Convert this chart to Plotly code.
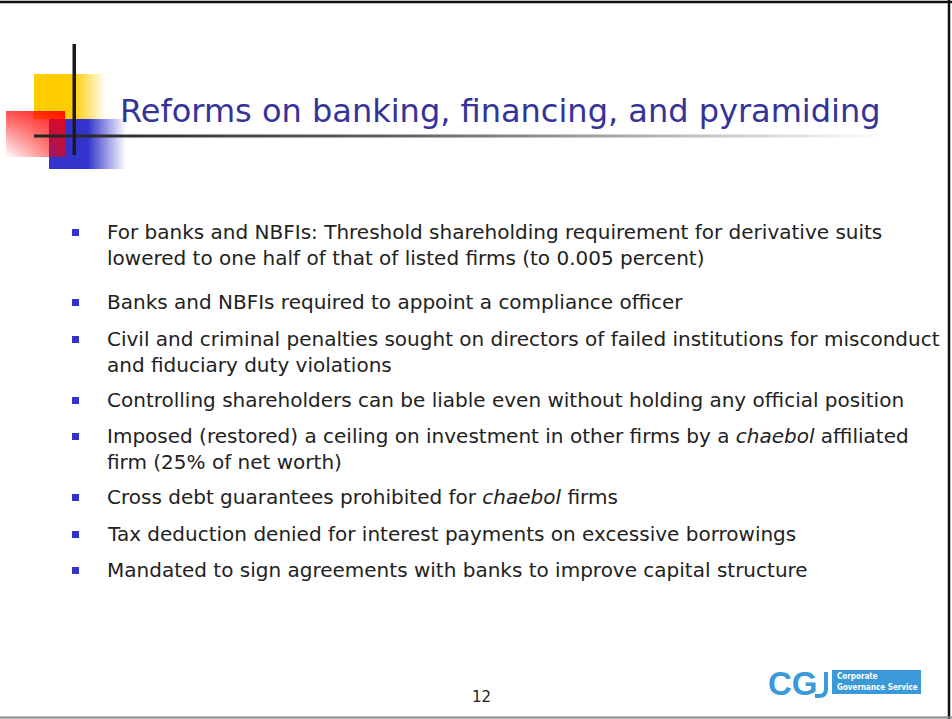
import plotly.graph_objects as go

# ---- content ----
title_text = "Reforms on banking, financing, and pyramiding"
bullet_items = [
    ["For banks and NBFIs: Threshold shareholding requirement for derivative suits",
     "lowered to one half of that of listed firms (to 0.005 percent)"],
    ["Banks and NBFIs required to appoint a compliance officer"],
    ["Civil and criminal penalties sought on directors of failed institutions for misconduct",
     "and fiduciary duty violations"],
    ["Controlling shareholders can be liable even without holding any official position"],
    ["Imposed (restored) a ceiling on investment in other firms by a <i>chaebol</i> affiliated",
     "firm (25% of net worth)"],
    ["Cross debt guarantees prohibited for <i>chaebol</i> firms"],
    ["Tax deduction denied for interest payments on excessive borrowings"],
    ["Mandated to sign agreements with banks to improve capital structure"],
]
page_number = "12"
logo_mark = "CG"
logo_words = ["Corporate", "Governance Service"]

# ---- layout constants ----
W, H = 952, 719
item_tops = [232, 302, 339, 400, 436, 497, 534, 570]
line_h = 25.5
TEXT_X = 105
BULLET_X = 75.5
FONT = "DejaVu Sans, Verdana, sans-serif"

fig = go.Figure()

def grad_rect(x0, x1, y0, y1, kind, scale):
    fig.add_trace(go.Scatter(
        x=[x0, x1, x1, x0, x0], y=[y0, y0, y1, y1, y0],
        mode="lines", line=dict(width=0), fill="toself",
        fillgradient=dict(type=kind, colorscale=scale),
        hoverinfo="skip", showlegend=False))

# yellow square (solid then fading right)
grad_rect(34, 106, 74, 119, "horizontal",
          [[0, "#ffcc00"], [0.55, "#ffcc00"], [1, "rgba(255,204,0,0)"]])
# blue square
grad_rect(49, 126, 119, 169, "horizontal",
          [[0, "#3333cc"], [0.5, "#3333cc"], [1, "rgba(51,51,204,0)"]])
# red square (diagonal-ish fade)
grad_rect(6, 65, 111, 157, "horizontal",
          [[0, "rgba(255,0,0,0.0)"], [1, "rgba(255,0,0,0.65)"]])
grad_rect(6, 65, 111, 157, "vertical",
          [[0, "rgba(255,0,0,0)"], [1, "rgba(255,0,0,0.7)"]])
# horizontal rule fading out
grad_rect(34, 885, 134.5, 137.5, "horizontal",
          [[0, "#222222"], [0.45, "#666666"], [1, "rgba(255,255,255,1)"]])

fig.update_layout(
    width=W, height=H, margin=dict(l=0, r=0, t=0, b=0),
    paper_bgcolor="white", plot_bgcolor="white",
    xaxis=dict(range=[0, W], visible=False, fixedrange=True),
    yaxis=dict(range=[H, 0], visible=False, fixedrange=True),
    showlegend=False,
)

shapes = [
    # vertical black bar
    dict(type="rect", x0=72.5, x1=76, y0=44, y1=155, fillcolor="#1a1a1a", line_width=0, layer="above"),
    # slide borders
    dict(type="line", x0=0, x1=W, y0=2, y1=2, line=dict(color="#111111", width=2.5)),
    dict(type="line", x0=949, x1=949, y0=0, y1=H, line=dict(color="#111111", width=2.5)),
    dict(type="line", x0=0, x1=W, y0=717.5, y1=717.5, line=dict(color="#888888", width=2)),
    # logo box
    dict(type="rect", x0=832, x1=921, y0=670, y1=694, fillcolor="#3a9ad9", line_width=0),
    dict(type="path", path="M 826 672 L 826 689 Q 826 696 819 696 L 815 696",
         line=dict(color="#3a9ad9", width=4)),
]
annotations = [
    dict(x=118, y=111, text=title_text, showarrow=False, xanchor="left", yanchor="middle",
         font=dict(family=FONT, size=32, color="#333399")),
    dict(x=481, y=697, text=page_number, showarrow=False, xanchor="center", yanchor="middle",
         font=dict(family=FONT, size=15, color="#222222")),
    dict(x=793, y=683, text="<b>" + logo_mark + "</b>", showarrow=False, xanchor="center", yanchor="middle",
         font=dict(family="Liberation Sans, Arial, sans-serif", size=33, color="#3a9ad9")),
    dict(x=835, y=676.5, text="<b>" + logo_words[0] + "</b>", showarrow=False, xanchor="left", yanchor="middle",
         font=dict(family="Liberation Sans Narrow, DejaVu Sans Condensed, sans-serif", size=8, color="white")),
    dict(x=835, y=687, text="<b>" + logo_words[1] + "</b>", showarrow=False, xanchor="left", yanchor="middle",
         font=dict(family="Liberation Sans Narrow, DejaVu Sans Condensed, sans-serif", size=8, color="white")),
]

for top, lines in zip(item_tops, bullet_items):
    shapes.append(dict(type="rect", x0=BULLET_X - 3.5, x1=BULLET_X + 3.5, y0=top - 3, y1=top + 4,
                       fillcolor="#3333cc", line_width=0))
    for j, ln in enumerate(lines):
        annotations.append(dict(x=TEXT_X, y=top + j * line_h, text=ln, showarrow=False,
                                xanchor="left", yanchor="middle",
                                font=dict(family=FONT, size=20, color="#222222")))

fig.update_layout(shapes=shapes, annotations=annotations)
fig.write_html("out.html", config={"displayModeBar": False},
               post_script="document.body.style.margin='0';document.body.style.overflow='hidden';")
